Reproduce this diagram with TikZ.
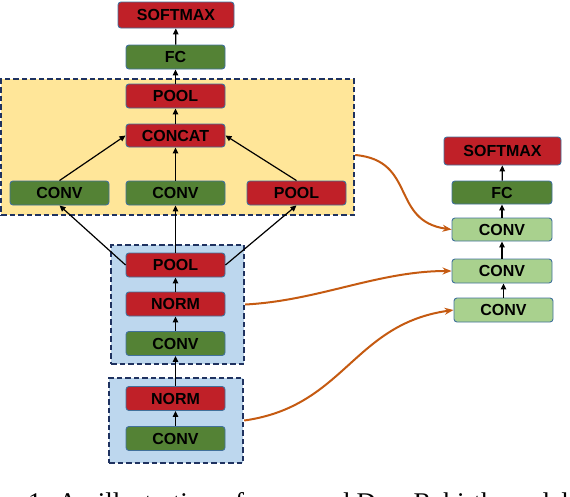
\documentclass[tikz,border=0pt]{standalone}
\usepackage{fontspec}
\setmainfont{Liberation Serif}
\newfontfamily\labelfont{Liberation Sans}
\usetikzlibrary{arrows.meta,positioning}
\definecolor{lyrred}{RGB}{192,32,40}
\definecolor{lyrgreen}{RGB}{84,130,53}
\definecolor{lyrlight}{RGB}{169,209,142}
\definecolor{grpyellow}{RGB}{255,230,153}
\definecolor{grpblue}{RGB}{189,215,238}
\definecolor{grpnavy}{RGB}{31,50,96}
\definecolor{lyrborder}{RGB}{65,113,156}
\definecolor{linkorange}{RGB}{197,90,17}
\tikzset{
  layer/.style={draw=lyrborder, line width=0.9pt, rounded corners=3pt,
    minimum width=99pt, minimum height=24pt, inner sep=0pt,
    font=\labelfont\bfseries\fontsize{16}{16}\selectfont, text=black},
  redlayer/.style={layer, fill=lyrred},
  greenlayer/.style={layer, fill=lyrgreen},
  lightlayer/.style={layer, fill=lyrlight},
  group/.style={draw=grpnavy, line width=2.4pt, dash pattern=on 5.5pt off 3pt},
  flow/.style={draw=black, line width=1.2pt, -{Triangle[length=6pt,width=5.5pt]}},
  link/.style={draw=linkorange, line width=2pt, -{Stealth[length=9pt,width=7pt]}}
}
\begin{document}
\begin{tikzpicture}[x=1pt,y=-1pt]
\useasboundingbox (0,0) rectangle (570,496);
\clip (0,0) rectangle (570,496);
% group boxes
\node[group, fill=grpyellow, minimum width=353pt, minimum height=136pt, inner sep=0pt] (ybox) at (177.5,147) {};
\node[group, fill=grpblue, minimum width=133pt, minimum height=119pt, inner sep=0pt] (bbox1) at (177.5,304.5) {};
\node[group, fill=grpblue, minimum width=134pt, minimum height=85pt, inner sep=0pt] (bbox2) at (176,420.5) {};
% main column
\node[redlayer, minimum width=116pt, minimum height=26pt] (smax) at (176,15) {SOFTMAX};
\node[greenlayer] (fc) at (175.5,57) {FC};
\node[redlayer] (pool3) at (175.5,96) {POOL};
\node[redlayer, minimum height=23pt] (concat) at (175.5,135.5) {CONCAT};
\node[greenlayer] (convL) at (59.5,193) {CONV};
\node[greenlayer] (convM) at (175.5,193) {CONV};
\node[redlayer] (poolR) at (296.5,193) {POOL};
\node[redlayer] (pool1) at (175.5,265) {POOL};
\node[redlayer] (norm1) at (175.5,304) {NORM};
\node[greenlayer] (conv1) at (175.5,343.5) {CONV};
\node[redlayer] (norm0) at (175.5,398.5) {NORM};
\node[greenlayer] (conv0) at (175.5,438.5) {CONV};
% right column
\node[redlayer, minimum width=117pt, minimum height=28pt] (rsmax) at (502.5,151) {SOFTMAX};
\node[greenlayer, minimum width=100pt, minimum height=23pt] (rfc) at (502,192.5) {FC};
\node[lightlayer, minimum width=100pt, minimum height=23pt] (rconv1) at (502,229.5) {CONV};
\node[lightlayer, minimum width=100pt] (rconv2) at (502,271) {CONV};
\node[lightlayer] (rconv3) at (503.5,310) {CONV};
% main flow
\draw[flow] (conv0) -- (norm0);
\draw[flow] (norm0) -- (conv1);
\draw[flow] (conv1) -- (norm1);
\draw[flow] (norm1) -- (pool1);
\draw[flow] (pool1) -- (convM);
\draw[flow] (pool1.west) -- (convL.south);
\draw[flow] (pool1.east) -- (poolR.south);
\draw[flow] (convL.north) -- (concat.west);
\draw[flow] (convM) -- (concat);
\draw[flow] (poolR.north) -- (concat.east);
\draw[flow] (concat) -- (pool3);
\draw[flow] (pool3) -- (fc);
\draw[flow] (fc) -- (smax);
% right flow
\draw[flow] (rconv3.north) -- (rconv3.north |- rconv2.south);
\draw[flow] (rconv2) -- (rconv1);
\draw[flow] (rconv1) -- (rfc);
\draw[flow] (rfc) -- (rsmax);
% links
\draw[link] ([yshift=-8pt]ybox.east) to[out=-5,in=172,looseness=1.3] (rconv1.west);
\draw[link] (bbox1.east) to[out=3,in=180,looseness=0.9] (rconv2.west);
\draw[link] (bbox2.east) to[out=8,in=188,looseness=1.1] (rconv3.west);
% caption (cut off by the frame, as in the reference)
\node[anchor=base west, inner sep=0pt, font=\fontsize{27}{27}\selectfont] (caption) at (28,511) {1: An illustration of proposed DeepRebirth model};
\end{tikzpicture}
\end{document}
